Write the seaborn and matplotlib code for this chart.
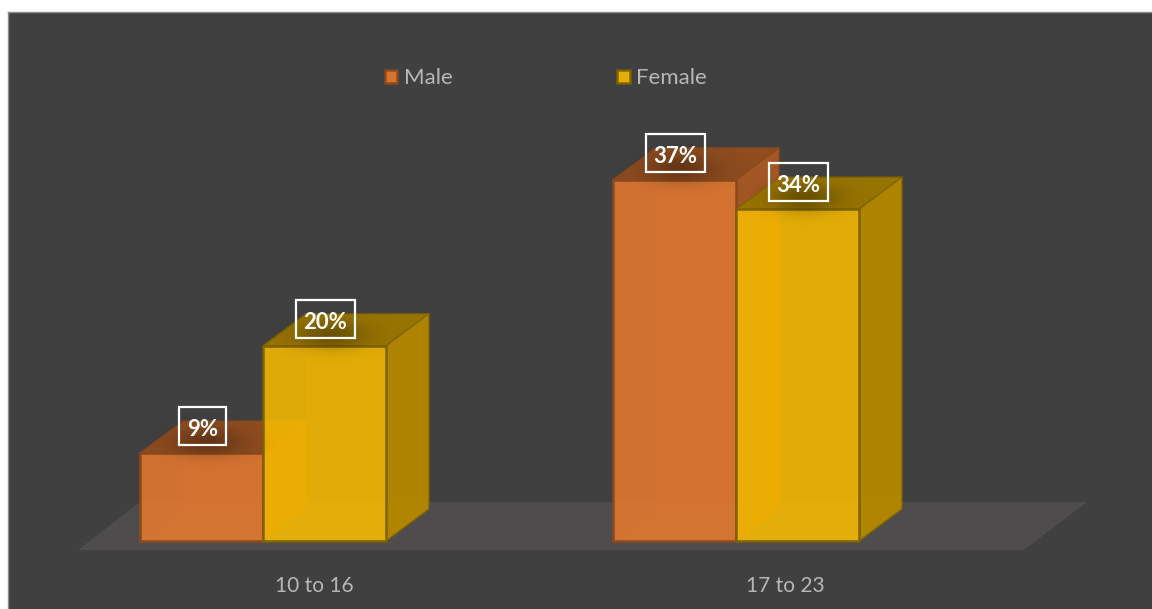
import matplotlib
matplotlib.use("Agg")
import matplotlib.pyplot as plt
from matplotlib.patches import Polygon, Rectangle
import numpy as np
import pandas as pd
import seaborn as sns

age_groups = ["10 to 16", "17 to 23"]
male_values = [9, 37]
female_values = [20, 34]
series_names = ["Male", "Female"]
series_colors = ["#E87A30", "#F8BC00"]
edge_colors = ["#8A4A1C", "#7F6200"]

sns.set_theme(style="white")
plt.rcParams["font.family"] = ["Lato", "DejaVu Sans"]

W, H = 1152, 609
fig = plt.figure(figsize=(W / 100, H / 100), dpi=100, facecolor="white")
ax = fig.add_axes([8 / W, 0, (W - 8) / W, (H - 12) / H], facecolor="#404040")

PX_X = 473.0   # pixels per category
PX_Y = 9.76    # pixels per percent
X0, Y0 = 263.0, 541.0
XLIM = ((8 - X0) / PX_X, (W - X0) / PX_X)
YLIM = ((Y0 - H) / PX_Y, (Y0 - 12) / PX_Y)

df = pd.DataFrame({
    "age": age_groups * 2,
    "share": male_values + female_values,
    "sex": [series_names[0]] * 2 + [series_names[1]] * 2,
})
sns.barplot(data=df, x="age", y="share", hue="sex", order=age_groups, hue_order=series_names,
            palette=series_colors, saturation=1, width=0.52, gap=0, alpha=0.83,
            edgecolor="#000000", linewidth=0, ax=ax)
ax.set_xlim(*XLIM)
ax.set_ylim(*YLIM)

DX, DY = 43 / PX_X, 32 / PX_Y

# floor of the 3D scene
fx = np.array([78, 1024, 1087, 140], float)
fy = np.array([550, 550, 502, 502], float)
ax.add_patch(Polygon(np.c_[(fx - X0) / PX_X, (Y0 - fy) / PX_Y], closed=True,
                     facecolor="#4F4C4D", edgecolor="none", zorder=1))


def shade(c, f):
    return tuple(np.array(matplotlib.colors.to_rgb(c)) * f)


# soft blurred shadow used below each data label
gx, gy = np.meshgrid(np.linspace(-3, 3, 80), np.linspace(-3, 3, 60))
shadow = np.zeros((60, 80, 4))
shadow[..., 3] = 0.30 * np.exp(-(gx ** 2 + gy ** 2) / 2)

bars = list(ax.containers[0]) + list(ax.containers[1])
colors = [series_colors[0]] * 2 + [series_colors[1]] * 2
edges = [edge_colors[0]] * 2 + [edge_colors[1]] * 2
order = [0, 2, 1, 3]
z = 2
for i in order:
    b, c, e = bars[i], colors[i], edges[i]
    x, w, h = b.get_x(), b.get_width(), b.get_height()
    xr = x + w
    faces_back = [
        ([(x + DX, DY), (xr + DX, DY), (xr + DX, h + DY), (x + DX, h + DY)], shade(c, 0.95), 0.30),
        ([(x, 0), (x + DX, DY), (x + DX, h + DY), (x, h)], shade(c, 0.85), 0.25),
        ([(x, 0), (xr, 0), (xr + DX, DY), (x + DX, DY)], shade(c, 0.95), 0.30),
    ]
    for pts, col, a in faces_back:
        ax.add_patch(Polygon(pts, closed=True, facecolor=col, alpha=a, edgecolor="none", zorder=z))
        z += 1
    faces = [
        ([(xr, 0), (xr + DX, DY), (xr + DX, h + DY), (xr, h)], shade(c, 0.72), 0.95),
        ([(x, h), (xr, h), (xr + DX, h + DY), (x + DX, h + DY)], shade(c, 0.62), 0.95),
    ]
    for pts, col, a in faces:
        ax.add_patch(Polygon(pts, closed=True, facecolor=col, alpha=a, edgecolor="none", zorder=z))
        z += 1
    b.set_zorder(z)
    z += 1
    for pts in ([(xr, h), (xr + DX, h + DY), (xr + DX, DY), (xr, 0)],
                [(x, h), (x + DX, h + DY), (xr + DX, h + DY)]):
        px, py = zip(*pts)
        ax.plot(px, py, color=e, lw=1.2, alpha=0.75, zorder=z, solid_joinstyle="round")
    z += 1
    ax.plot([x, xr, xr, x, x], [0, 0, h, h, 0], color=e, lw=1.8, zorder=z, solid_joinstyle="miter")
    z += 1

# data labels and their shadows
renderer = fig.canvas.get_renderer()
for i in range(4):
    b = bars[i]
    v = b.get_height()
    cx = b.get_x() + b.get_width() / 2 + 1 / PX_X
    sx = b.get_x() + b.get_width() * 0.55
    sy = v + 11 / PX_Y
    ax.imshow(shadow, extent=(sx - 72 / PX_X, sx + 72 / PX_X, sy - 30 / PX_Y, sy + 30 / PX_Y),
              origin="lower", aspect="auto", interpolation="bilinear", zorder=150)
    t = ax.annotate(f"{v:.0f}%", (cx, v), xytext=(0, 18.2), textcoords="offset points",
                    ha="center", va="center_baseline", color="white", fontsize=16,
                    fontweight="bold", zorder=201)
    bw = (t.get_window_extent(renderer).width + 15) / PX_X
    ax.add_patch(Rectangle((cx - bw / 2, v + 8 / PX_Y), bw, 38 / PX_Y, facecolor="none",
                           edgecolor="white", linewidth=1.6, zorder=200))
ax.set_xlim(*XLIM)
ax.set_ylim(*YLIM)

# axis
ax.set_xticks(np.arange(2) + 51 / PX_X - 0.003 * np.arange(2), age_groups)
ax.set_yticks([])
ax.set_xlabel("")
ax.set_ylabel("")
ax.tick_params(axis="x", length=0, pad=-24, labelsize=15, labelcolor="#B7B7B7")
for s in ["bottom", "right"]:
    ax.spines[s].set_visible(False)
for s in ["left", "top"]:
    ax.spines[s].set_color("#8C8C8C")
    ax.spines[s].set_linewidth(1)

# legend
handles, labels = ax.get_legend_handles_labels()
for hd, e, c in zip(handles, edge_colors, series_colors):
    hd.set_edgecolor(e)
    hd.set_linewidth(1.8)
    hd.set_facecolor(c)
    hd.set_alpha(0.9)
leg = ax.legend(handles, labels, ncol=2, frameon=False, loc="center left",
                bbox_to_anchor=((385 - 8) / (W - 8), 1 - (78.5 - 12) / (H - 12)),
                fontsize=16, labelcolor="#B7B7B7", handlelength=0.56, handleheight=0.56,
                handletextpad=0.3, columnspacing=7.4, borderpad=0, borderaxespad=0)

fig.savefig("out.png", dpi=100, facecolor="white")
